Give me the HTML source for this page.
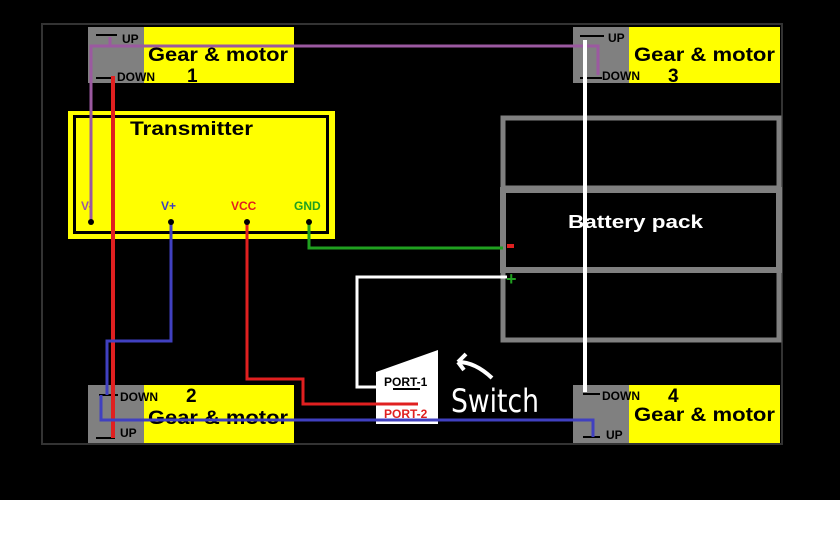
<!DOCTYPE html>
<html><head><style>body{margin:0;background:#fff}svg{display:block}</style></head><body>
<svg width="840" height="550" xmlns="http://www.w3.org/2000/svg" font-family="Liberation Sans, sans-serif" font-weight="bold">
<rect x="0" y="0" width="840" height="500" fill="#000"/>
<rect x="42" y="24" width="740" height="420" fill="none" stroke="#333" stroke-width="2"/>
<!-- motors -->
<rect x="88" y="27" width="56" height="56" fill="#808080"/><rect x="144" y="27" width="150" height="56" fill="#ffff00"/>
<rect x="573" y="27" width="56" height="56" fill="#808080"/><rect x="629" y="27" width="151" height="56" fill="#ffff00"/>
<rect x="88" y="385" width="56" height="58" fill="#808080"/><rect x="144" y="385" width="150" height="58" fill="#ffff00"/>
<rect x="573" y="385" width="56" height="58" fill="#808080"/><rect x="629" y="385" width="151" height="58" fill="#ffff00"/>
<g font-size="19" fill="#000">
<text x="148" y="61" textLength="140" lengthAdjust="spacingAndGlyphs">Gear &amp; motor</text><text x="187" y="82">1</text>
<text x="634" y="61" textLength="141" lengthAdjust="spacingAndGlyphs">Gear &amp; motor</text><text x="668" y="82">3</text>
<text x="186" y="402">2</text><text x="148" y="424" textLength="140" lengthAdjust="spacingAndGlyphs">Gear &amp; motor</text>
<text x="668" y="402">4</text><text x="634" y="421" textLength="141" lengthAdjust="spacingAndGlyphs">Gear &amp; motor</text>
</g>
<g font-size="12" fill="#000">
<text x="122" y="43">UP</text><text x="117" y="81">DOWN</text>
<text x="608" y="42">UP</text><text x="602" y="80">DOWN</text>
<text x="120" y="401">DOWN</text><text x="120" y="437">UP</text>
<text x="602" y="400">DOWN</text><text x="606" y="439">UP</text>
</g>
<g stroke="#000" stroke-width="2">
<line x1="96" y1="35" x2="117" y2="35"/><line x1="96" y1="78" x2="113" y2="78"/>
<line x1="580" y1="36" x2="604" y2="36"/><line x1="580" y1="78" x2="602" y2="78"/>
<line x1="99" y1="395" x2="118" y2="395"/><line x1="96" y1="438" x2="115" y2="438"/>
<line x1="583" y1="394" x2="600" y2="394"/><line x1="583" y1="437" x2="600" y2="437"/>
</g>
<!-- transmitter -->
<rect x="68" y="111" width="267" height="128" fill="#ffff00"/>
<rect x="74.5" y="116.5" width="253" height="116" fill="none" stroke="#000" stroke-width="3"/>
<text x="130" y="135" font-size="19" textLength="123" lengthAdjust="spacingAndGlyphs">Transmitter</text>
<g font-size="12"><text x="81" y="210" fill="#9b59a0">V-</text><text x="161" y="210" fill="#4040c0">V+</text><text x="231" y="210" fill="#e02020">VCC</text><text x="294" y="210" fill="#20a020">GND</text></g>
<!-- battery -->
<g fill="none" stroke="#808080">
<rect x="503" y="118" width="276" height="70" stroke-width="5"/>
<rect x="503" y="190" width="276" height="80" stroke-width="6"/>
<rect x="503" y="270" width="276" height="70" stroke-width="5"/>
</g>
<text x="568" y="228" font-size="18" fill="#fff" textLength="135" lengthAdjust="spacingAndGlyphs">Battery pack</text>
<!-- wires -->
<g fill="none" stroke-width="3">
<polyline points="91,222 91,46 598,46 598,75" stroke="#9b59a0"/>
<polyline points="110,46 110,37" stroke="#9b59a0"/>
<polyline points="113,76 113,438" stroke="#e02020" stroke-width="4"/>
<polyline points="247,222 247,379 303,379 303,404 418,404" stroke="#e02020"/>
<polyline points="171,222 171,341 107,341 107,395" stroke="#4040c0"/>
<polyline points="101,395 101,420 593,420 593,437" stroke="#4040c0"/>
<polyline points="309,222 309,248 503,248" stroke="#20a020"/>
<polyline points="585,40 585,392" stroke="#fff" stroke-width="4"/>
<polyline points="507,277 357,277 357,387 378,387" stroke="#fff"/>
</g>
<rect x="507" y="244" width="7" height="4" fill="#e02020"/>
<text x="506" y="285" font-size="18" fill="#20a020">+</text>
<g fill="#000"><circle cx="91" cy="222" r="3"/><circle cx="171" cy="222" r="3"/><circle cx="247" cy="222" r="3"/><circle cx="309" cy="222" r="3"/></g>
<!-- switch -->
<polygon points="376,372 438,350 438,424 376,424" fill="#fff"/>
<line x1="305" y1="404" x2="418" y2="404" stroke="#e02020" stroke-width="3"/>
<text x="384" y="386" font-size="12" fill="#000">PORT-1</text>
<line x1="393" y1="389" x2="420" y2="389" stroke="#000" stroke-width="2"/>
<text x="384" y="418" font-size="12" fill="#e02020">PORT-2</text>
<line x1="101" y1="420" x2="593" y2="420" stroke="#4040c0" stroke-width="3"/>
<text x="451" y="412" font-size="32" fill="#fff" font-family="DejaVu Sans, sans-serif" font-weight="normal" textLength="88" lengthAdjust="spacingAndGlyphs">Switch</text>
<path d="M492,378 Q475,362 458,362 M458,362 l8,-8 M458,362 l6,8" stroke="#fff" stroke-width="4" fill="none"/>
</svg>
</body></html>
